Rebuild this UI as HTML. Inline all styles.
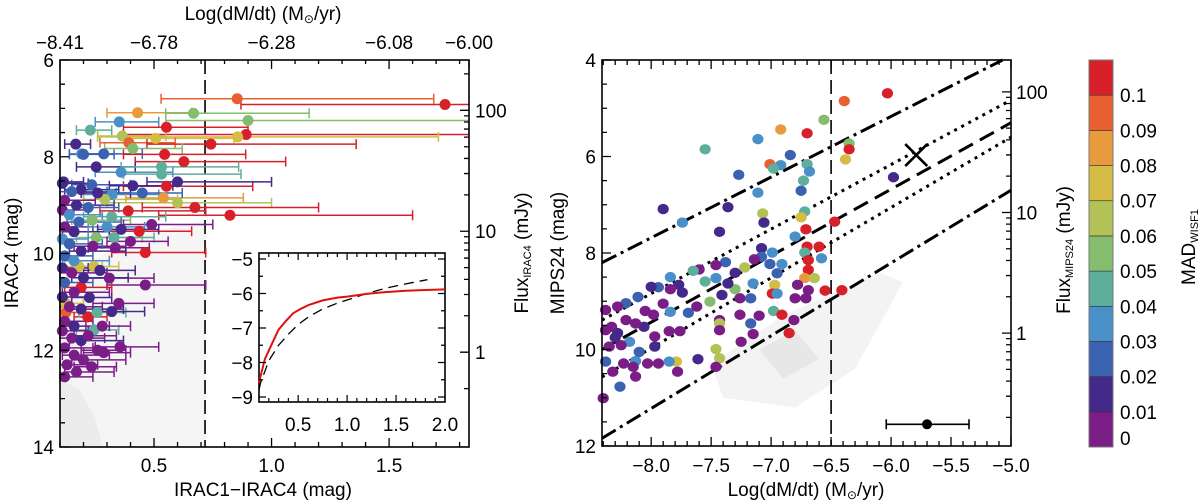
<!DOCTYPE html>
<html><head><meta charset="utf-8"><style>
html,body{margin:0;padding:0;background:#fff;}
svg{display:block;font-family:"Liberation Sans",sans-serif;}
</style></head><body>
<svg id="fig" width="1200" height="501" viewBox="0 0 1200 501" xmlns="http://www.w3.org/2000/svg">
<g id="left"></g>
<g id="inset"></g>
<g id="right"></g>
<g id="cbar"></g>
</svg>
<script>
// ---------- data ----------
const palette = ["#7a1d87","#44288a","#3a62b0","#4a90c8","#5fae9c","#84bd6e","#b2c257","#d5bc45","#e89a3c","#e8602f","#d7202a"];
const cbarLabels = ["0","0.01","0.02","0.03","0.04","0.05","0.06","0.07","0.08","0.09","0.1"];

// left panel: IRAC1-IRAC4 vs IRAC4
const leftX = [0.854,1.738,0.43,0.668,0.90,0.352,0.229,0.553,0.892,0.856,0.365,0.507,0.393,0.742,0.167,0.41,0.192,0.286,0.545,0.627,0.254,0.532,0.532,0.36,0.553,0.60,0.115,0.19,0.32,0.235,0.29,0.54,0.60,0.674,0.39,0.823,0.237,0.32,0.437,0.254,0.33,0.49,0.24,0.335,0.463,0.18,0.245,0.31,0.463,0.19,0.225,0.35,0.125,0.125,0.218,0.258,0.245,0.355,0.286,0.234,
0.11,0.15,0.12,0.17,0.11,0.14,0.18,0.12,0.16,0.11,0.14,0.19,0.12,0.16,0.11,0.15,0.20,0.12,0.16,0.11,0.14,0.19,0.12,0.16,0.11,0.15,0.19,0.12,0.16,0.20,0.13,0.17,0.12,0.27,0.30,0.22,0.26,0.41,0.45,0.36,0.40,0.28,0.32,0.22,0.26,0.20];
const leftY = [6.80,6.92,7.09,7.10,7.25,7.28,7.45,7.39,7.54,7.59,7.57,7.62,7.71,7.74,7.74,7.83,7.94,7.94,7.95,8.10,8.21,8.21,8.36,8.32,8.61,8.52,8.52,8.68,8.78,8.58,8.88,8.85,8.95,9.05,9.12,9.21,9.31,9.24,9.54,9.67,9.67,9.40,9.85,9.88,9.98,10.27,10.27,10.51,10.65,10.70,10.91,11.03,11.03,11.22,11.31,11.22,11.58,11.93,12.05,12.34,
8.55,8.72,8.9,9.0,9.1,9.2,9.35,9.45,9.55,9.7,9.8,9.95,10.05,10.15,10.3,10.4,10.5,10.6,10.8,10.9,11.1,11.15,11.4,11.5,11.6,11.75,11.8,11.95,12.1,12.2,12.3,12.45,12.55,10.35,9.45,9.05,8.75,8.6,8.75,9.5,9.75,11.5,11.2,11.7,12.0,7.95];
const leftC = [9,10,8,5,5,3,4,10,10,7,6,7,9,10,1,5,3,2,10,10,1,4,4,3,10,1,1,1,3,2,6,8,6,10,10,10,5,4,10,5,4,0,0,0,10,7,7,0,0,10,1,0,7,9,10,4,4,0,0,0,
1,2,0,1,0,3,2,0,1,3,2,1,2,3,1,0,1,2,0,1,0,1,0,1,0,0,1,0,0,0,0,0,0,1,3,2,1,1,2,1,0,0,1,0,0,2];
const leftLo = [0.53,0.87,0.30,0.55,0.55,0.25,0.17,0.37,0.37,0.26,0.26,0.38,0.27,0.47,0.12,0.29,0.14,0.20,0.37,0.42,0.17,0.36,0.37,0.25,0.37,0.47,0.10,0.12,0.20,0.15,0.20,0.38,0.30,0.45,0.27,0.52,0.15,0.20,0.31,0.17,0.22,0.37,0.16,0.22,0.32,0.12,0.18,0.20,0.30,0.12,0.15,0.24,0.10,0.10,0.16,0.18,0.17,0.25,0.20,0.16,
0.10,0.10,0.10,0.12,0.10,0.10,0.13,0.10,0.11,0.10,0.10,0.14,0.10,0.11,0.10,0.10,0.15,0.10,0.11,0.10,0.10,0.14,0.10,0.11,0.10,0.10,0.14,0.10,0.11,0.15,0.10,0.12,0.10,0.20,0.22,0.16,0.19,0.31,0.34,0.26,0.30,0.21,0.24,0.16,0.19,0.14];
const leftHi = [1.69,1.84,0.66,1.16,1.84,0.52,0.32,0.90,1.84,1.71,0.55,0.84,0.59,1.36,0.23,0.62,0.28,0.45,0.89,1.06,0.42,0.86,0.87,0.58,0.92,1.00,0.20,0.35,0.52,0.40,0.60,0.88,1.00,1.20,0.72,1.60,0.40,0.55,0.66,0.45,0.50,0.75,0.38,0.48,0.72,0.28,0.35,0.50,0.72,0.32,0.32,0.50,0.20,0.20,0.30,0.38,0.35,0.52,0.40,0.34,
0.22,0.30,0.25,0.33,0.22,0.28,0.36,0.24,0.31,0.22,0.28,0.38,0.24,0.31,0.22,0.30,0.39,0.24,0.31,0.22,0.28,0.37,0.24,0.31,0.22,0.29,0.37,0.24,0.31,0.38,0.26,0.33,0.24,0.42,0.46,0.35,0.40,0.58,0.62,0.52,0.56,0.40,0.46,0.34,0.38,0.33];

// inset curves
const insetRedX = [0.1,0.12,0.16,0.22,0.30,0.38,0.45,0.53,0.61,0.75,0.9,1.0,1.2,1.39,1.6,1.8,2.0];
const insetRedY = [-8.6,-8.35,-7.9,-7.53,-7.05,-6.78,-6.57,-6.44,-6.33,-6.2,-6.12,-6.09,-6.01,-5.96,-5.92,-5.9,-5.88];
const insetDashX = [0.1,0.115,0.2,0.3,0.41,0.5,0.61,0.75,0.9,1.0,1.2,1.39,1.6,1.82];
const insetDashY = [-8.8,-8.6,-7.95,-7.5,-7.15,-6.9,-6.67,-6.45,-6.28,-6.19,-6.0,-5.85,-5.72,-5.6];

// right panel: Log(dM/dt) vs MIPS24
const rightX = [-6.03,-6.39,-6.56,-6.92,-6.70,-7.11,-7.55,-6.35,-6.35,-6.38,-6.84,-7.01,-6.92,-6.98,-6.70,-6.68,-7.27,-6.73,-6.75,-7.11,-5.98,-7.90,-7.36,-7.07,-7.06,-7.74,-7.43,-6.72,-6.75,-6.47,-6.71,-6.80,-6.70,-6.60,-6.58,-7.08,-6.99,-7.08,-7.01,-7.38,-7.46,-7.14,-6.91,-6.95,-6.72,-6.69,-6.69,-6.72,-6.64,-6.78,-6.69,-6.55,-6.41,-6.97,-6.99,-6.95,-6.80,-6.71,-7.22,-7.30,-7.30,-7.15,-7.36,-7.26,-7.17,-7.46,-7.55,-7.51,-7.41,-7.60,-7.65,-7.77,-7.74,-7.84,-7.84,-7.94,-8.00,-8.11,-8.21,-8.28,-8.38,-7.84,-7.69,-7.62,-7.98,-8.06,-8.13,-8.21,-8.33,-8.38,-8.28,-8.18,-8.25,-8.35,-7.97,-7.85,-7.76,-7.97,-7.43,-7.43,-7.43,-7.26,-7.10,-6.98,-6.91,-6.81,-7.17,-7.15,-6.85,-7.25,-7.46,-7.43,-7.61,-7.46,-7.79,-7.85,-7.78,-7.94,-8.03,-8.13,-8.13,-8.23,-8.32,-8.38,-8.26,-8.40,-8.15,-8.05,-8.30,-7.90,-8.10];
const rightY = [4.69,4.85,5.24,5.44,5.52,5.64,5.85,5.73,5.85,6.06,5.97,6.16,6.18,6.25,6.16,6.31,6.38,6.50,6.71,6.75,6.43,7.09,7.05,7.18,7.37,7.37,7.56,7.14,7.26,7.35,7.51,7.66,7.87,7.87,8.11,7.90,7.99,8.08,8.23,8.19,8.25,8.13,8.23,8.42,7.99,8.15,8.35,8.52,8.52,8.66,8.77,8.78,8.77,8.66,8.84,8.84,8.94,8.94,8.30,8.41,8.75,8.63,8.63,8.94,8.94,8.52,8.59,9.01,8.87,8.34,8.37,8.66,8.82,8.50,8.75,8.71,8.70,8.91,9.04,9.11,9.18,9.22,9.24,9.11,9.28,9.53,9.46,9.39,9.53,9.60,9.66,9.84,9.91,9.94,9.73,9.62,9.62,9.94,9.39,9.46,9.60,9.28,9.30,9.20,9.28,9.39,9.46,9.68,9.66,9.84,9.99,10.18,10.20,10.36,10.25,10.25,10.46,10.29,10.29,10.24,10.56,10.29,10.46,10.25,10.77,11.01,10.36,9.20,9.75,9.05,10.05];
const rightC = [10,9,5,8,10,3,4,5,10,7,2,9,3,4,4,3,2,4,2,3,1,1,1,6,1,3,1,4,7,10,10,3,10,10,3,1,3,2,2,2,0,0,3,2,4,10,10,8,6,0,0,10,10,7,10,3,0,0,6,1,5,3,1,0,2,3,4,5,1,0,4,1,1,3,0,2,1,2,2,0,0,3,2,0,0,1,0,0,0,0,1,3,0,0,0,0,0,1,0,6,0,0,0,4,10,0,2,0,10,0,6,6,1,0,7,3,0,0,0,3,0,0,0,2,2,0,0,0,1,0,2];

// right panel model lines [x1,y1,x2,y2]
const lineUpperDD = [-8.41,8.2,-5.07,4.0];
const lineUpperDot = [-8.41,9.39,-5.0,4.83];
const lineDash = [-8.41,10.0,-5.0,5.3];
const lineLowerDot = [-8.41,10.57,-5.0,5.6];
const lineLowerDD = [-8.41,11.84,-5.0,6.7];
const crossPoint = [-5.79,5.97];
const errPoint = [-5.70,11.55,-6.04,-5.35];

// tick labels
const leftXTicks = [0.5,1.0,1.5];
const leftYTicks = [6,8,10,12,14];
const topTickLabels = ["−8.41","−6.78","−6.28","−6.08","−6.00"];
const topTickVals = [0.1,0.5,1.0,1.5,1.84];
const leftFluxTicks = [100,10,1];
const rightXTicks = [-8.0,-7.5,-7.0,-6.5,-6.0,-5.5,-5.0];
const rightYTicks = [4,6,8,10,12];
const rightFluxTicks = [100,10,1];
const insetXTicks = [0.5,1.0,1.5,2.0];
const insetYTicks = [-5,-6,-7,-8,-9];

// ---------- scales ----------
const FS=19;
const LB={x0:60,x1:469,y0:60,y1:447}, RB={x0:602,x1:1011,y0:60,y1:446}, IB={x0:259,x1:445,y0:253,y1:402};
const lx=v=>LB.x0+(v-0.1)/1.74*(LB.x1-LB.x0);
const ly=v=>LB.y0+(v-6)/8*(LB.y1-LB.y0);
const rx=v=>RB.x0+(v+8.41)/3.41*(RB.x1-RB.x0);
const ry=v=>RB.y0+(v-4)/8*(RB.y1-RB.y0);
const ix=v=>IB.x0+(v-0.1)/1.9*(IB.x1-IB.x0);
const iy=v=>259+(-5-v)*34.5;
const fmt=v=>(v<0?"−":"")+Math.abs(v).toFixed(1);
const NS="http://www.w3.org/2000/svg";
function mk(parent,tag,attrs,text){const e=document.createElementNS(NS,tag);for(const k in attrs)e.setAttribute(k,attrs[k]);if(text!==undefined)e.textContent=text;parent.appendChild(e);return e;}

const L=document.getElementById('left'),I=document.getElementById('inset'),R=document.getElementById('right'),C=document.getElementById('cbar');

// ---------- left background gray ----------
let g=mk(L,'polygon',{points:`${lx(0.1)},${ly(12.6)} ${lx(0.18)},${ly(12.8)} ${lx(0.25)},${ly(13.4)} ${lx(0.28)},${ly(14)} ${lx(0.1)},${ly(14)}`,fill:'#cfcfcf'});


g=mk(L,'polygon',{points:`${lx(0.1)},${ly(10.5)} ${lx(0.45)},${ly(9.6)} ${lx(0.72)},${ly(9.3)} ${lx(0.72)},${ly(14)} ${lx(0.1)},${ly(14)}`,fill:'#f2f2f2',opacity:0.8});



// dashed vertical
g=mk(L,'line',{x1:lx(0.717),x2:lx(0.717),y1:LB.y0,y2:LB.y1,stroke:'#000','stroke-width':1.6,'stroke-dasharray':'14,6'});



// error bars + points
for(let i=0;i<leftX.length;i++){
  const col=palette[leftC[i]], y=ly(leftY[i]), a=lx(leftLo[i]), b=Math.min(lx(leftHi[i]),LB.x1);
  const eb=mk(L,'path',{d:`M${a},${y}H${b}M${a},${y-5}V${y+5}`+(leftHi[i]<1.83?`M${b},${y-5}V${y+5}`:''),stroke:col,'stroke-width':1.5,fill:'none'});
  
  
}
for(let i=0;i<leftX.length;i++){
  const p=mk(L,'circle',{cx:lx(leftX[i]),cy:ly(leftY[i]),r:5.5,fill:palette[leftC[i]]});
  
  
}

// frame + ticks
g=mk(L,'rect',{x:LB.x0,y:LB.y0,width:LB.x1-LB.x0,height:LB.y1-LB.y0,fill:'none',stroke:'#000','stroke-width':1.6});


let d='';
for(let v=0.1;v<=1.84;v+=0.1){const X=lx(v),len=(Math.abs(v*2-Math.round(v*2))<0.01)?9:5;d+=`M${X},${LB.y1}v${-len}`;}
for(let v=6;v<=14.01;v+=0.5){const Y=ly(v),len=(Math.abs(v%2)<0.01)?9:5;d+=`M${LB.x0},${Y}h${len}`;}
topTickVals.forEach(v=>{d+=`M${lx(v)},${LB.y0}v9`;});
for(let v=0.2;v<1.84;v+=0.1){d+=`M${lx(v)},${LB.y0}v4`;}
leftFluxTicks.forEach(f=>{const m=12.04-2.5*Math.log10(f);d+=`M${LB.x1},${ly(m)}h-9`;for(let k=2;k<10;k++){const mm=12.04-2.5*Math.log10(f*k);if(mm>6&&mm<14)d+=`M${LB.x1},${ly(mm)}h-5`;}});
{const mm=12.04-2.5*Math.log10(0.5);d+=`M${LB.x1},${ly(mm)}h-5`;}
g=mk(L,'path',{d,stroke:'#000','stroke-width':1.3,fill:'none'});


leftXTicks.forEach(v=>{const t=mk(L,'text',{x:lx(v),y:472,'font-size':FS,'text-anchor':'middle'},v.toFixed(1));});
leftYTicks.forEach(v=>{const t=mk(L,'text',{x:54,y:ly(v)+7,'font-size':FS,'text-anchor':'end'},String(v));});
topTickLabels.forEach((s,i)=>{const t=mk(L,'text',{x:lx(topTickVals[i]),y:49,'font-size':FS,'text-anchor':'middle'},s);});
leftFluxTicks.forEach(f=>{const m=12.04-2.5*Math.log10(f);const t=mk(L,'text',{x:475,y:ly(m)+7,'font-size':FS},String(f));});

// ---------- inset ----------
g=mk(I,'rect',{x:IB.x0,y:IB.y0,width:IB.x1-IB.x0,height:IB.y1-IB.y0,fill:'#fff',stroke:'#000','stroke-width':1.6});


let pd='';insetDashX.forEach((v,i)=>{pd+=(i?'L':'M')+ix(v)+','+iy(insetDashY[i]);});
g=mk(I,'path',{d:pd,stroke:'#000','stroke-width':1.3,fill:'none','stroke-dasharray':'10,6'});


pd='';insetRedX.forEach((v,i)=>{pd+=(i?'L':'M')+ix(v)+','+iy(insetRedY[i]);});
g=mk(I,'path',{d:pd,stroke:'#e01010','stroke-width':2,fill:'none'});


d='';
for(let v=0.2;v<=2.0;v+=0.1){const X=ix(v),len=(Math.abs(v*2-Math.round(v*2))<0.01)?7:4;d+=`M${X},${IB.y1}v${-len}M${X},${IB.y0}v${len}`;}
for(let v=-9;v<=-5;v+=0.5){const Y=iy(v),len=Number.isInteger(v)?7:4;d+=`M${IB.x0},${Y}h${len}M${IB.x1},${Y}h${-len}`;}
g=mk(I,'path',{d,stroke:'#000','stroke-width':1.2,fill:'none'});


insetXTicks.forEach(v=>{const t=mk(I,'text',{x:ix(v),y:431,'font-size':FS,'text-anchor':'middle'},v.toFixed(1));});
insetYTicks.forEach(v=>{const t=mk(I,'text',{x:253,y:iy(v)+7,'font-size':FS,'text-anchor':'end'},"−"+Math.abs(v));});

// ---------- right panel ----------
g=mk(R,'polygon',{points:`${rx(-7.5)},${ry(10.3)} ${rx(-6.9)},${ry(9.3)} ${rx(-6.1)},${ry(8.4)} ${rx(-5.9)},${ry(8.6)} ${rx(-6.3)},${ry(10.4)} ${rx(-6.8)},${ry(11.2)} ${rx(-7.4)},${ry(11.0)}`,fill:'#f2f2f2',opacity:0.9});


g=mk(R,'polygon',{points:`${rx(-7.1)},${ry(10.0)} ${rx(-6.8)},${ry(9.6)} ${rx(-6.6)},${ry(10.2)} ${rx(-6.9)},${ry(10.6)}`,fill:'#e6e6e6',opacity:0.9});


function mline(arr,dash,name){const e=mk(R,'line',{x1:rx(arr[0]),y1:ry(arr[1]),x2:rx(arr[2]),y2:ry(arr[3]),stroke:'#000','stroke-width':3,'stroke-dasharray':dash,'stroke-linecap':'butt'});}
mline(lineUpperDD,'16,5,3,5','upper-dashdot-line');
mline(lineUpperDot,'3,5','upper-dotted-line');
mline(lineDash,'16,8','center-dashed-line');
mline(lineLowerDot,'3,5','lower-dotted-line');
mline(lineLowerDD,'16,5,3,5','lower-dashdot-line');
g=mk(R,'line',{x1:rx(-6.5),x2:rx(-6.5),y1:RB.y0,y2:RB.y1,stroke:'#000','stroke-width':1.6,'stroke-dasharray':'14,6'});


for(let i=0;i<rightX.length;i++){
  const p=mk(R,'ellipse',{cx:rx(rightX[i]),cy:ry(rightY[i]),rx:5.6,ry:5.2,fill:palette[rightC[i]]});
  
  
}
{const cx=rx(crossPoint[0]),cy=ry(crossPoint[1]);
g=mk(R,'path',{d:`M${cx-11},${cy-11}L${cx+11},${cy+11}M${cx-11},${cy+11}L${cx+11},${cy-11}`,stroke:'#000','stroke-width':2.6,fill:'none'});

}
{const cy=ry(errPoint[1]),a=rx(errPoint[2]),b=rx(errPoint[3]);
g=mk(R,'path',{d:`M${a},${cy}H${b}M${a},${cy-5}V${cy+5}M${b},${cy-5}V${cy+5}`,stroke:'#000','stroke-width':1.6,fill:'none'});


g=mk(R,'circle',{cx:rx(errPoint[0]),cy,r:5,fill:'#000'});

}
g=mk(R,'rect',{x:RB.x0,y:RB.y0,width:RB.x1-RB.x0,height:RB.y1-RB.y0,fill:'none',stroke:'#000','stroke-width':1.6});


d='';
for(let k=-84;k<=-50;k++){const v=k/10,X=rx(v),len=(k%5===0)?9:5;d+=`M${X},${RB.y1}v${-len}M${X},${RB.y0}v${len}`;}
for(let v=4;v<=12.01;v+=0.5){const Y=ry(v),len=(Math.abs(v%2)<0.01)?9:5;d+=`M${RB.x0},${Y}h${len}`;}
rightFluxTicks.forEach(f=>{const m=9.66-2.5*Math.log10(f);d+=`M${RB.x1},${ry(m)}h-9`;for(let k=2;k<10;k++){const mm=9.66-2.5*Math.log10(f*k);if(mm>4&&mm<12)d+=`M${RB.x1},${ry(mm)}h-5`;}});
for(let k=2;k<10;k++){const mm=9.66-2.5*Math.log10(0.1*k);if(mm<12)d+=`M${RB.x1},${ry(mm)}h-5`;}
g=mk(R,'path',{d,stroke:'#000','stroke-width':1.3,fill:'none'});


rightXTicks.forEach(v=>{const t=mk(R,'text',{x:rx(v),y:472,'font-size':FS,'text-anchor':'middle'},fmt(v));});
rightYTicks.forEach(v=>{const t=mk(R,'text',{x:596,y:ry(v)+7,'font-size':FS,'text-anchor':'end'},String(v));});
rightFluxTicks.forEach(f=>{const m=9.66-2.5*Math.log10(f);const t=mk(R,'text',{x:1016,y:ry(m)+7,'font-size':FS},String(f));});

// ---------- colorbar ----------
const cb0=60,cb1=447,bh=(cb1-cb0)/11;
for(let i=0;i<11;i++){const r=mk(C,'rect',{x:1089,y:cb1-(i+1)*bh,width:24,height:bh,fill:palette[i],stroke:'#333','stroke-width':0.6});}
g=mk(C,'rect',{x:1089,y:cb0,width:24,height:cb1-cb0,fill:'none',stroke:'#777','stroke-width':1});


cbarLabels.forEach((s,i)=>{const y=i===0?cb1-2:cb1-i*bh+7;const t=mk(C,'text',{x:1120,y,'font-size':FS},s);});
</script>
<script>
const F=document.getElementById('fig');
function T(x,y,html,rot,name){const t=document.createElementNS("http://www.w3.org/2000/svg",'text');t.setAttribute('x',x);t.setAttribute('y',y);t.setAttribute('font-size','19');t.setAttribute('text-anchor','middle');if(rot)t.setAttribute('transform',`rotate(-90 ${x} ${y})`);t.innerHTML=html;F.appendChild(t);}
T(263,20,'Log(dM/dt)  (M<tspan font-size="12" dy="3">⊙</tspan><tspan dy="-3">/yr)</tspan>',0,'top-axis-title');
T(263,496,'IRAC1−IRAC4  (mag)',0,'x-axis-title');
T(18,253,'IRAC4  (mag)',1,'y-axis-title');
T(528,253,'Flux<tspan font-size="11" dy="3">IRAC4</tspan><tspan dy="-3">  (mJy)</tspan>',1,'flux-axis-title');
T(564,253,'MIPS24  (mag)',1,'y-axis-title-right');
T(806,496,'Log(dM/dt)  (M<tspan font-size="12" dy="3">⊙</tspan><tspan dy="-3">/yr)</tspan>',0,'x-axis-title-right');
T(1070,250,'Flux<tspan font-size="11" dy="3">MIPS24</tspan><tspan dy="-3">  (mJy)</tspan>',1,'flux-axis-title-right');
T(1195,247,'MAD<tspan font-size="11" dy="3">WISF1</tspan>',1,'colorbar-title');
</script>
</body></html>
